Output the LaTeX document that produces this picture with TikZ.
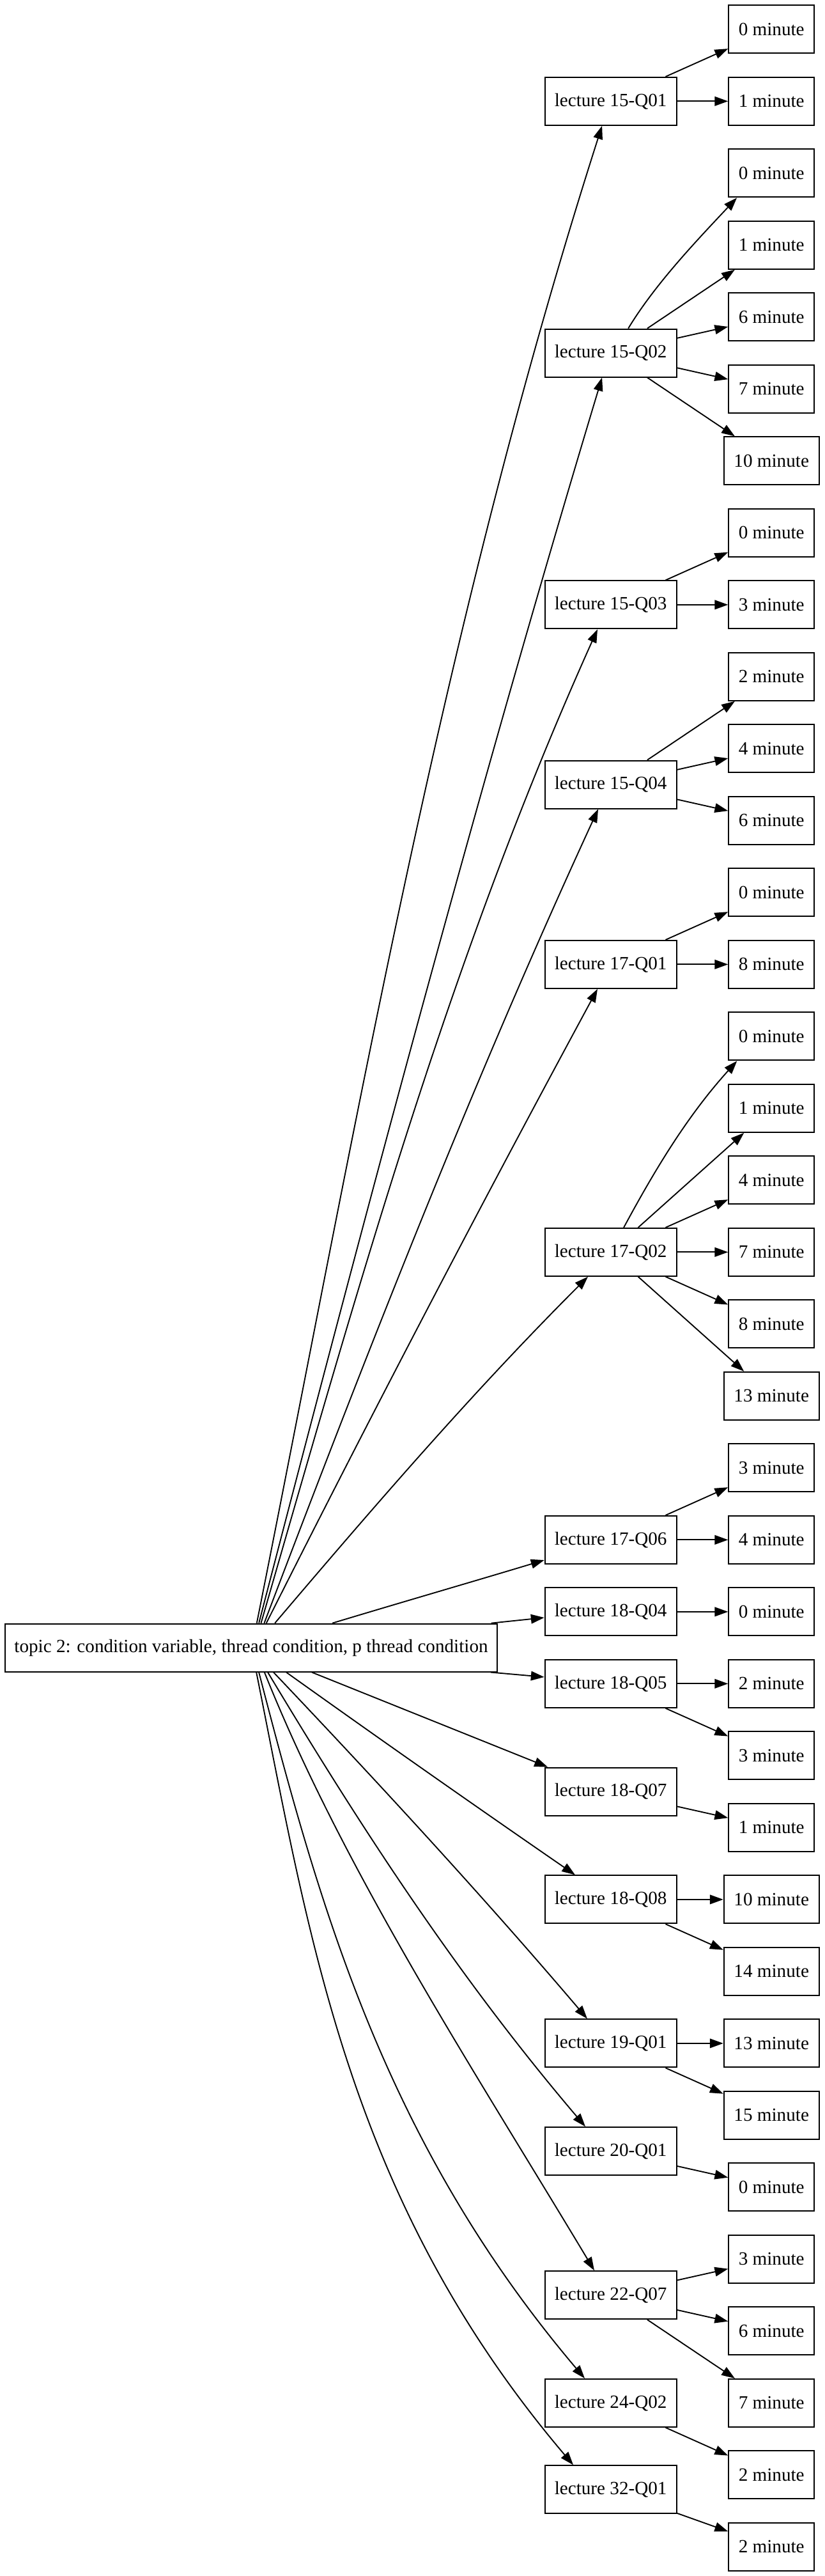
\documentclass[tikz,border=0pt]{standalone}
\usepackage{fontspec}
\setmainfont{Liberation Serif}
\usetikzlibrary{arrows.meta}
\begin{document}
\begin{tikzpicture}[x=1pt,y=-1pt,
  box/.style={draw, line width=0.9pt, rectangle, inner sep=0pt, minimum height=36pt, font=\fontsize{14pt}{16pt}\selectfont},
  rootbox/.style={box, minimum width=369.3pt},
  lecbox/.style={box, minimum width=98.9pt},
  minbox/.style={box, minimum width=64.3pt},
  widebox/.style={box, minimum width=71.5pt},
  arr/.style={line width=0.9pt, -{Triangle[length=10pt,width=7pt]}}
]
\useasboundingbox (0,0) rectangle (619.2,1933.9);
\fill[white] (0,0) rectangle (619.2,1933.9);

% root
\node[rootbox] (root) at (188.65,1237) {topic 2: condition variable, thread condition, p thread condition};

% lectures
\node[lecbox] (L1) at (458.7,76) {lecture 15-Q01};
\node[lecbox] (L2) at (458.7,265) {lecture 15-Q02};
\node[lecbox] (L3) at (458.7,454) {lecture 15-Q03};
\node[lecbox] (L4) at (458.7,589) {lecture 15-Q04};
\node[lecbox] (L5) at (458.7,724) {lecture 17-Q01};
\node[lecbox] (L6) at (458.7,940) {lecture 17-Q02};
\node[lecbox] (L7) at (458.7,1156) {lecture 17-Q06};
\node[lecbox] (L8) at (458.7,1210) {lecture 18-Q04};
\node[lecbox] (L9) at (458.7,1264) {lecture 18-Q05};
\node[lecbox] (L10) at (458.7,1345) {lecture 18-Q07};
\node[lecbox] (L11) at (458.7,1426) {lecture 18-Q08};
\node[lecbox] (L12) at (458.7,1534) {lecture 19-Q01};
\node[lecbox] (L13) at (458.7,1615) {lecture 20-Q01};
\node[lecbox] (L14) at (458.7,1723) {lecture 22-Q07};
\node[lecbox] (L15) at (458.7,1804) {lecture 24-Q02};
\node[lecbox] (L16) at (458.7,1869) {lecture 32-Q01};

% minutes
\node[minbox] (m0) at (579.45,22) {0 minute};
\node[minbox] (m1) at (579.45,76) {1 minute};
\node[minbox] (m2) at (579.45,130) {0 minute};
\node[minbox] (m3) at (579.45,184) {1 minute};
\node[minbox] (m4) at (579.45,238) {6 minute};
\node[minbox] (m5) at (579.45,292) {7 minute};
\node[widebox] (m6) at (579.45,346) {10 minute};
\node[minbox] (m7) at (579.45,400) {0 minute};
\node[minbox] (m8) at (579.45,454) {3 minute};
\node[minbox] (m9) at (579.45,508) {2 minute};
\node[minbox] (m10) at (579.45,562) {4 minute};
\node[minbox] (m11) at (579.45,616) {6 minute};
\node[minbox] (m12) at (579.45,670) {0 minute};
\node[minbox] (m13) at (579.45,724) {8 minute};
\node[minbox] (m14) at (579.45,778) {0 minute};
\node[minbox] (m15) at (579.45,832) {1 minute};
\node[minbox] (m16) at (579.45,886) {4 minute};
\node[minbox] (m17) at (579.45,940) {7 minute};
\node[minbox] (m18) at (579.45,994) {8 minute};
\node[widebox] (m19) at (579.45,1048) {13 minute};
\node[minbox] (m20) at (579.45,1102) {3 minute};
\node[minbox] (m21) at (579.45,1156) {4 minute};
\node[minbox] (m22) at (579.45,1210) {0 minute};
\node[minbox] (m23) at (579.45,1264) {2 minute};
\node[minbox] (m24) at (579.45,1318) {3 minute};
\node[minbox] (m25) at (579.45,1372) {1 minute};
\node[widebox] (m26) at (579.45,1426) {10 minute};
\node[widebox] (m27) at (579.45,1480) {14 minute};
\node[widebox] (m28) at (579.45,1534) {13 minute};
\node[widebox] (m29) at (579.45,1588) {15 minute};
\node[minbox] (m30) at (579.45,1642) {0 minute};
\node[minbox] (m31) at (579.45,1696) {3 minute};
\node[minbox] (m32) at (579.45,1750) {6 minute};
\node[minbox] (m33) at (579.45,1804) {7 minute};
\node[minbox] (m34) at (579.45,1858) {2 minute};
\node[minbox] (m35) at (579.45,1912) {2 minute};

% root -> lectures (upper)
\draw[arr] ([xshift=4.2pt]root.north) .. controls +(75,-375) and +(-120,375) .. ([xshift=-6.5pt]L1.south);
\draw[arr] ([xshift=5.8pt]root.north) .. controls +(81,-312) and +(-94,312) .. ([xshift=-6.5pt]L2.south);
\draw[arr] ([xshift=7.4pt]root.north) .. controls +(72,-249) and +(-112,249) .. ([xshift=-9.9pt]L3.south);
\draw[arr] ([xshift=9.8pt]root.north) .. controls +(77.5,-204) and +(-94,204) .. ([xshift=-9.4pt]L4.south);
\draw[arr] ([xshift=11.4pt]root.north) .. controls +(80,-159) and +(-86,159) .. ([xshift=-9.9pt]L5.south);
\draw[arr] ([xshift=17.8pt]root.north) .. controls +(74,-87) and +(-87,87) .. ([xshift=-17.1pt]L6.south);
\draw[arr] ([xshift=61pt]root.north) .. controls +(53,-16) and +(-53,16) .. ([yshift=-15.2pt]L7.west);
\draw[arr] ([xshift=-4.8pt]root.north east) -- ([yshift=-4.4pt]L8.west);
% root -> lectures (lower)
\draw[arr] ([xshift=-5pt]root.south east) -- ([yshift=5pt]L9.west);
\draw[arr] ([xshift=45.6pt]root.south) -- ([xshift=-47.3pt]L10.north);
\draw[arr] ([xshift=26.4pt]root.south) .. controls +(71.4,51) and +(-74,-51) .. ([xshift=-26.7pt]L11.north);
\draw[arr] ([xshift=16.8pt]root.south) .. controls +(82.7,87) and +(-74,-87) .. ([xshift=-17.6pt]L12.north);
\draw[arr] ([xshift=12.5pt]root.south) .. controls +(68.4,114) and +(-97,-114) .. ([xshift=-19pt]L13.north);
\draw[arr] ([xshift=10pt]root.south) .. controls +(60,150) and +(-90,-150) .. ([xshift=-12.3pt]L14.north);
\draw[arr] ([xshift=5.8pt]root.south) .. controls +(46,177) and +(-150,-177) .. ([xshift=-19.5pt]L15.north);
\draw[arr] ([xshift=3.9pt]root.south) .. controls +(40,199) and +(-169,-199) .. ([xshift=-28.1pt]L16.north);

% lectures -> minutes
\foreach \a/\b in {L1/m0, L1/m1, L2/m3, L2/m4, L2/m5, L2/m6, L3/m7, L3/m8,
  L4/m9, L4/m10, L4/m11, L5/m12, L5/m13, L6/m15, L6/m16, L6/m17, L6/m18, L6/m19,
  L7/m20, L7/m21, L8/m22, L9/m23, L9/m24, L10/m25, L11/m26, L11/m27, L12/m28, L12/m29,
  L13/m30, L14/m31, L14/m32, L14/m33, L15/m34, L16/m35}
  \draw[arr] (\a) -- (\b);
\draw[arr] ([xshift=13.2pt]L2.north) .. controls +(20,-33) and +(-31,33) .. ([xshift=-25.95pt]m2.south);
\draw[arr] ([xshift=9.8pt]L6.north) .. controls +(22.7,-42) and +(-38,42) .. ([xshift=-25.85pt]m14.south);
\end{tikzpicture}
\end{document}
